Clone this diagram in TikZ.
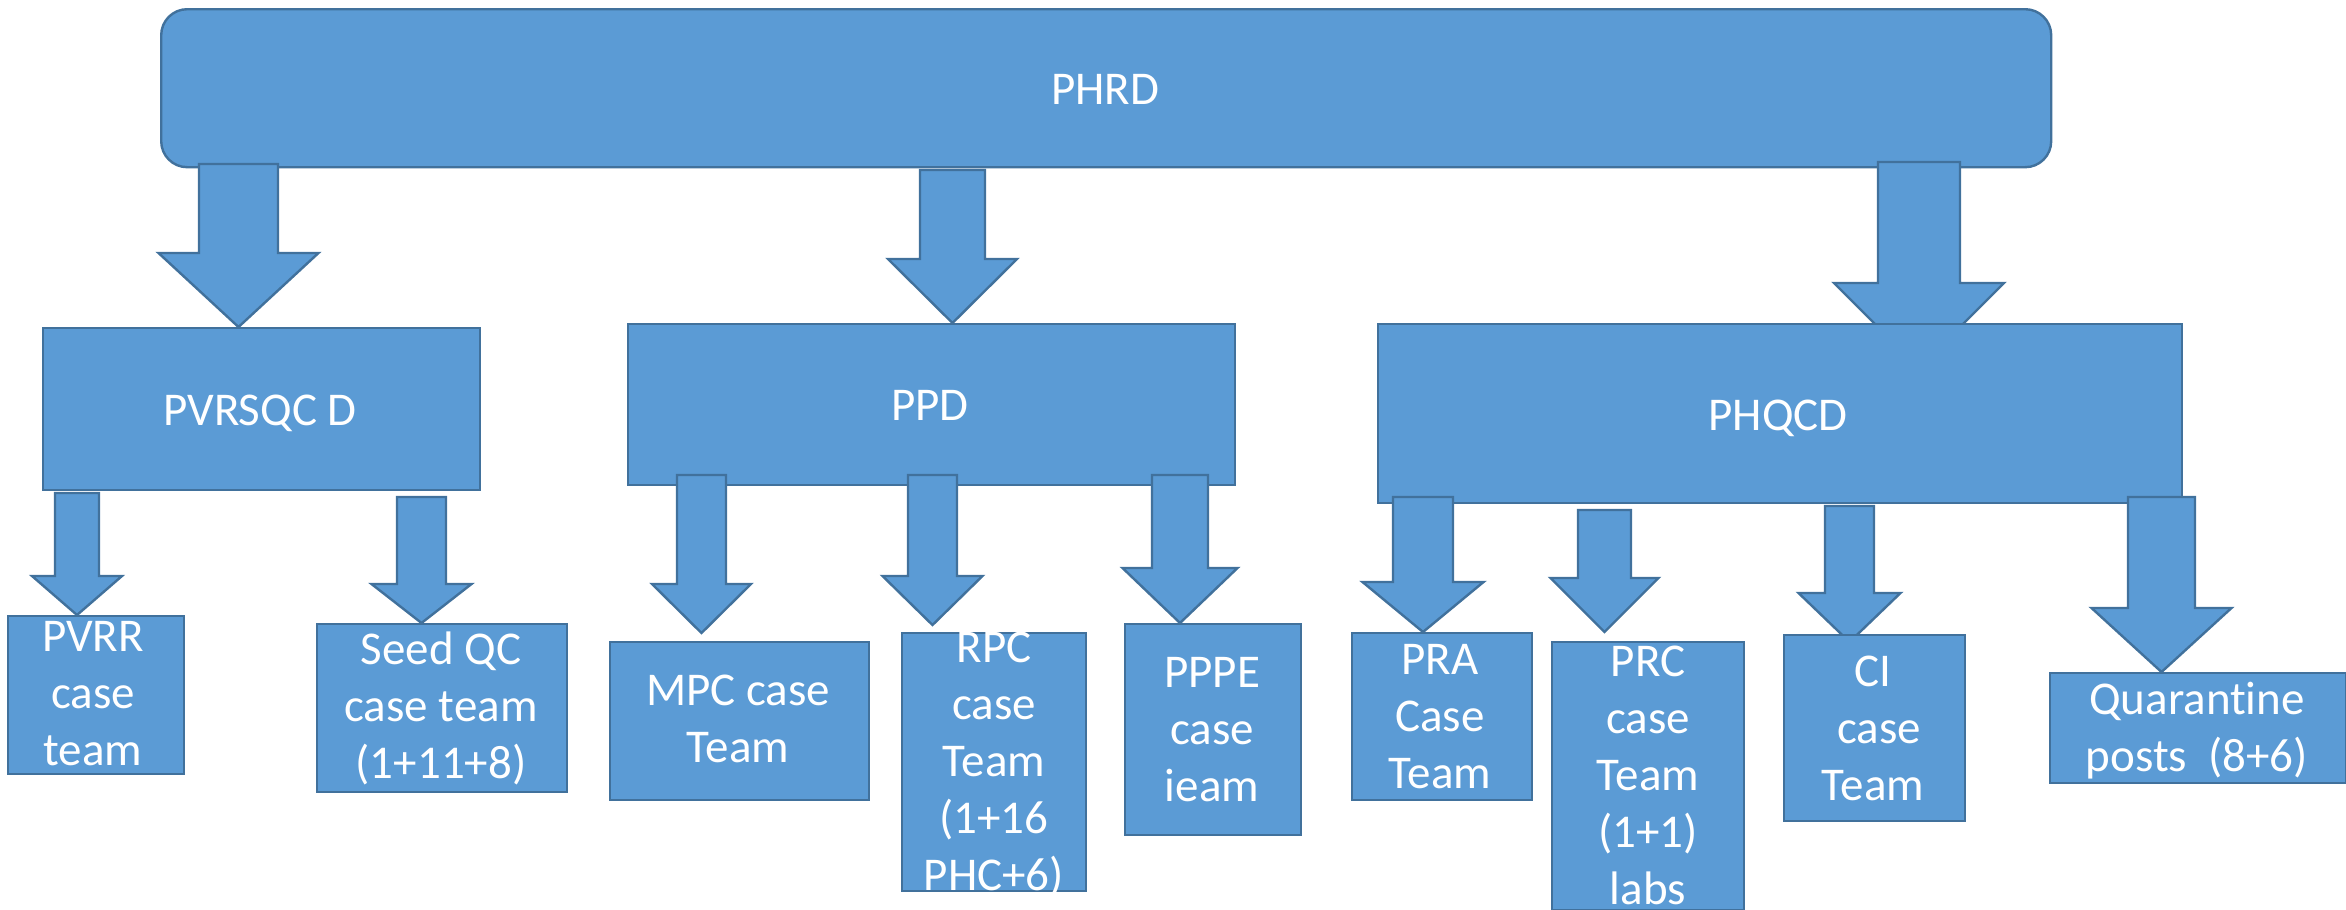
\documentclass[tikz,border=0pt]{standalone}
\usepackage{fontspec}
\setmainfont{Carlito}[Ligatures=NoCommon]
\definecolor{boxfill}{HTML}{5B9BD5}
\definecolor{boxline}{HTML}{41719C}
\tikzset{
  shapebox/.style={draw=boxline, fill=boxfill, line width=1.2pt, inner sep=0pt, anchor=north west},
  blockarrow/.style={draw=boxline, fill=boxfill, line width=1.2pt, line join=miter},
  lbl/.style={text=white, align=center, inner sep=0pt, font=\fontsize{23.5}{28.5}\selectfont},
}
% box: name, x1, y1, x2, y2 (pixel coordinates, y downward)
\newcommand\bx[6][]{\node[shapebox, minimum width={(#5-#3)*0.5pt}, minimum height={(#6-#4)*0.5pt}, #1] (#2) at (#3,#4) {};}
% block arrow: centre x, shaft top, shaft half width, shoulder y, head half width, tip y
\newcommand\barr[6]{\filldraw[blockarrow] ({#1-#3},#2) -- ({#1+#3},#2) -- ({#1+#3},#4) -- ({#1+#5},#4) -- (#1,#6) -- ({#1-#5},#4) -- ({#1-#3},#4) -- cycle;}
\begin{document}
\begin{tikzpicture}[x=0.5pt,y=-0.5pt]
\useasboundingbox (0,0) rectangle (2346,910);
% top level
\bx[rounded corners=13pt]{phrd}{160}{8}{2050}{166}
\node[lbl] (phrd-t) at (1105,93) {\strut PHRD};
% arrows from PHRD
\barr{238.5}{164}{39.5}{253}{80}{327}
\barr{952.5}{170}{32.5}{259}{64.5}{323}
\barr{1919}{162}{41}{283}{85}{368}
% second level
\bx{pvrsqcd}{42}{327}{479}{489}
\node[lbl] (pvrsqcd-t) at (260,414) {\strut PVRSQC D};
\bx{ppd}{627}{323}{1234}{484}
\node[lbl] (ppd-t) at (930,409) {\strut PPD};
\bx{phqcd}{1377}{323}{2181}{502}
\node[lbl] (phqcd-t) at (1778,419) {\strut PHQCD};
% arrows to third level
\barr{77}{493}{22}{576}{45}{615}
\barr{421.5}{497}{24.5}{584}{50}{623}
\barr{701.5}{475}{24.5}{584}{49.5}{633}
\barr{932.5}{475}{24.5}{576}{50}{625}
\barr{1180}{475}{28}{568}{57.5}{623}
\barr{1423}{497}{30}{582}{60.5}{632}
\barr{1604.5}{510}{26.5}{578}{54}{632}
\barr{1849.5}{506}{24.5}{593}{51}{642}
\barr{2161.5}{497}{33.5}{608}{70}{672}
% third level
\bx{pvrr}{7}{615}{183}{773}
\node[lbl] (pvrr-t) at (93,697) {\strut PVRR\\\strut case\\\strut team};
\bx{seed}{316}{623}{566}{791}
\node[lbl] (seed-t) at (441,710) {\strut Seed QC\\\strut case team\\\strut (1+11+8)};
\bx{mpc}{609}{641}{868}{799}
\node[lbl] (mpc-t) at (738,723) {\strut MPC case\\\strut Team};
\bx{rpc}{901}{632}{1085}{890}
\node[lbl] (rpc-t) at (994,765) {\strut RPC\\\strut case\\\strut Team\\\strut (1+16\\\strut PHC+6)};
\bx{pppe}{1124}{623}{1300}{834}
\node[lbl] (pppe-t) at (1212,733) {\strut PPPE\\\strut case\\\strut ieam};
\bx{pra}{1351}{632}{1531}{799}
\node[lbl] (pra-t) at (1440,720) {\strut PRA\\\strut Case\\\strut Team};
\bx{prc}{1551}{641}{1743}{909}
\node[lbl] (prc-t) at (1648,779) {\strut PRC\\\strut case\\\strut Team\\\strut (1+1)\\\strut labs};
\bx{ci}{1783}{634}{1964}{820}
\node[lbl] (ci-t) at (1873,732) {\strut CI\\\strut\hspace{0.25em}case\\\strut Team};
\bx{quar}{2049}{672}{2345}{782}
\node[lbl] (quar-t) at (2197,732) {\strut Quarant\kern0pt ine\\\strut posts\ \ (8+6)};
\end{tikzpicture}
\end{document}
